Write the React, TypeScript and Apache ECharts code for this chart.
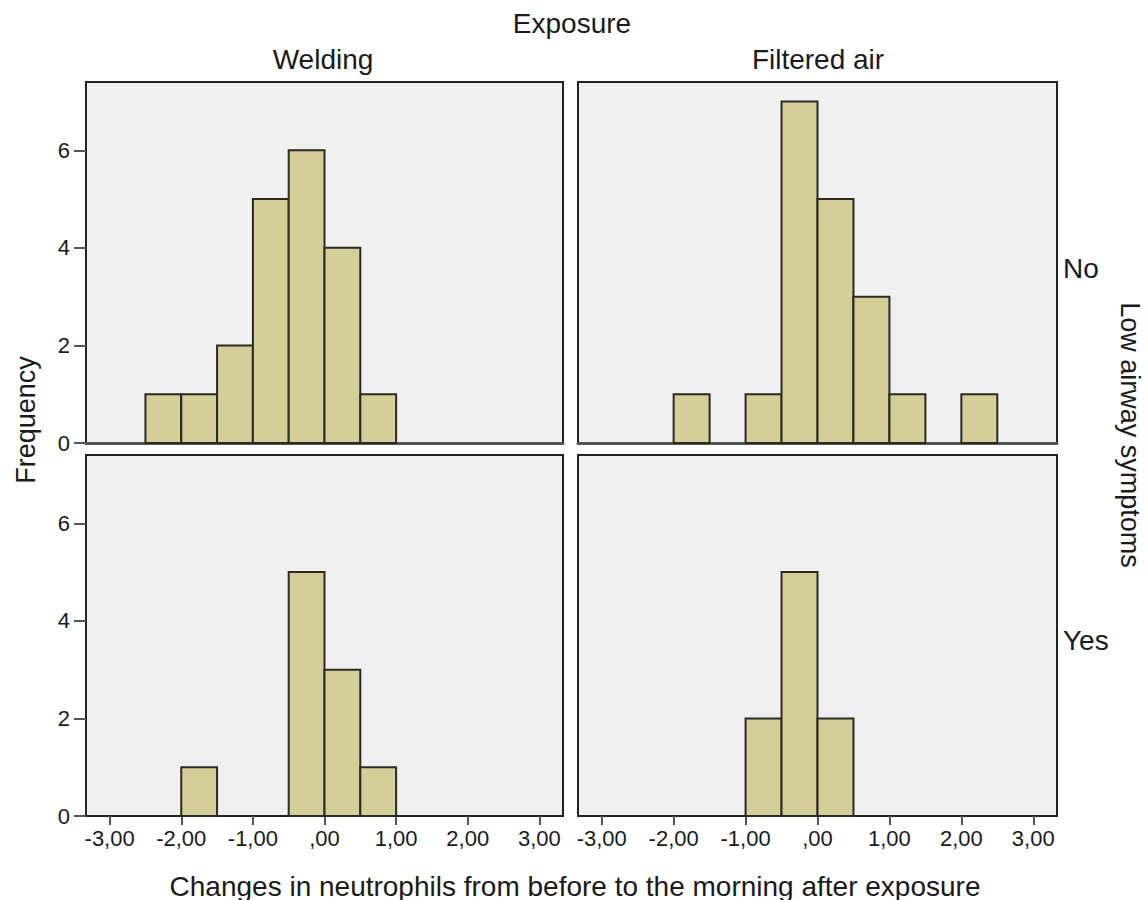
import React, { useEffect, useRef } from "react";
import * as echarts from "echarts";

const BIN_WIDTH = 0.5;
const xTicks = [-3, -2, -1, 0, 1, 2, 3];
const yTicks = [0, 2, 4, 6];
const columnLabels = ["Welding", "Filtered air"];
const rowLabels = ["No", "Yes"];

const weldingNoStarts = [-2.5, -2, -1.5, -1, -0.5, 0, 0.5];
const weldingNoCounts = [1, 1, 2, 5, 6, 4, 1];
const filteredNoStarts = [-2, -1, -0.5, 0, 0.5, 1, 2];
const filteredNoCounts = [1, 1, 7, 5, 3, 1, 1];
const weldingYesStarts = [-2, -0.5, 0, 0.5];
const weldingYesCounts = [1, 5, 3, 1];
const filteredYesStarts = [-1, -0.5, 0];
const filteredYesCounts = [2, 5, 2];

const FONT = "Liberation Sans";
const TEXT = "#1a1a1a";

function fmt(v: number) {
  let s = Math.abs(v).toFixed(2).replace(".", ",");
  if (s.startsWith("0")) s = s.slice(1);
  return (v < 0 ? "-" : "") + s;
}

export default function App() {
  const ref = useRef<HTMLDivElement>(null);
  useEffect(() => {
    if (!ref.current) return;
    const chart = echarts.init(ref.current, undefined, { renderer: "svg" });
    const panels = [
      { starts: weldingNoStarts, counts: weldingNoCounts, left: 86, top: 82, width: 477, row: 0, col: 0 },
      { starts: filteredNoStarts, counts: filteredNoCounts, left: 578, top: 82, width: 479, row: 0, col: 1 },
      { starts: weldingYesStarts, counts: weldingYesCounts, left: 86, top: 455, width: 477, row: 1, col: 0 },
      { starts: filteredYesStarts, counts: filteredYesCounts, left: 578, top: 455, width: 479, row: 1, col: 1 },
    ];
    const grid = panels.map((p) => ({
      left: p.left,
      top: p.top,
      width: p.width,
      height: 361,
      show: true,
      backgroundColor: "#f0f0f0",
      borderColor: "#222",
      borderWidth: 2,
    }));
    const xAxis = panels.map((p, i) => ({
      type: "value",
      gridIndex: i,
      min: -3.33,
      max: 3.33,
      splitLine: { show: false },
      axisLine: { show: p.row === 0, onZero: false, lineStyle: { color: "#555", width: 3 } },
      axisTick: {
        show: p.row === 1,
        customValues: xTicks,
        length: 9,
        lineStyle: { color: "#555", width: 2 },
      },
      axisLabel: {
        show: p.row === 1,
        customValues: xTicks,
        formatter: (v: number) => fmt(v),
        fontFamily: FONT,
        fontSize: 22,
        color: TEXT,
        margin: 11,
      },
    }));
    const yAxis = panels.map((p, i) => ({
      type: "value",
      gridIndex: i,
      min: 0,
      max: 7.4,
      splitLine: { show: false },
      axisLine: { show: false, onZero: false },
      axisTick: {
        show: p.col === 0,
        customValues: yTicks,
        length: 12,
        lineStyle: { color: "#555", width: 2 },
      },
      axisLabel: {
        show: p.col === 0,
        customValues: yTicks,
        fontFamily: FONT,
        fontSize: 22,
        color: TEXT,
        margin: 16,
      },
    }));
    const series = panels.map((p, i) => ({
      type: "custom",
      xAxisIndex: i,
      yAxisIndex: i,
      encode: { x: [0, 1], y: 2 },
      data: p.starts.map((s, k) => [s, s + BIN_WIDTH, p.counts[k]]),
      renderItem: (params: any, api: any) => {
        const s = api.value(0);
        const e = api.value(1);
        const c = api.value(2);
        const p0 = api.coord([s, 0]);
        const p1 = api.coord([e, c]);
        return {
          type: "rect",
          shape: { x: p0[0], y: p1[1], width: p1[0] - p0[0], height: p0[1] - p1[1] },
          style: { fill: "#d3cf97", stroke: "#2a2a22", lineWidth: 2 },
        };
      },
    }));
    const textStyle = (extra: any) => ({ fontFamily: FONT, fill: TEXT, ...extra });
    chart.setOption({
      animation: false,
      backgroundColor: "#ffffff",
      grid,
      xAxis,
      yAxis,
      series,
      graphic: [
        { type: "text", x: 572, y: 23, style: textStyle({ text: "Exposure", fontSize: 28, align: "center", verticalAlign: "middle" }) },
        { type: "text", x: 323, y: 59, style: textStyle({ text: columnLabels[0], fontSize: 28, align: "center", verticalAlign: "middle" }) },
        { type: "text", x: 818, y: 59, style: textStyle({ text: columnLabels[1], fontSize: 28, align: "center", verticalAlign: "middle" }) },
        { type: "text", x: 1063, y: 268, style: textStyle({ text: rowLabels[0], fontSize: 28, align: "left", verticalAlign: "middle" }) },
        { type: "text", x: 1063, y: 640, style: textStyle({ text: rowLabels[1], fontSize: 28, align: "left", verticalAlign: "middle" }) },
        { type: "text", x: 1130, y: 435, rotation: -Math.PI / 2, style: textStyle({ text: "Low airway symptoms", fontSize: 27, align: "center", verticalAlign: "middle" }) },
        { type: "text", x: 26, y: 420, rotation: Math.PI / 2, style: textStyle({ text: "Frequency", fontSize: 27, align: "center", verticalAlign: "middle" }) },
        { type: "text", x: 575, y: 886, style: textStyle({ text: "Changes in neutrophils from before to the morning after exposure", fontSize: 28, align: "center", verticalAlign: "middle" }) },
      ],
    });
    return () => chart.dispose();
  }, []);
  return <div ref={ref} style={{ position: "fixed", left: 0, top: 0, width: 1148, height: 900 }} />;
}
